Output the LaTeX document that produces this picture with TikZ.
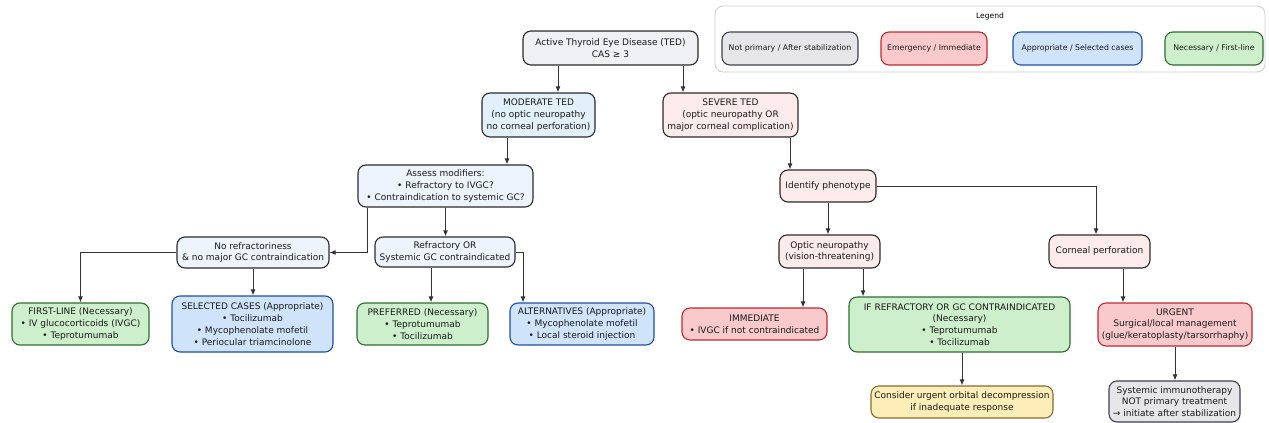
\documentclass[tikz,border=0pt]{standalone}
\usepackage{fontspec}
\setsansfont{DejaVu Sans}
\usepackage{tikz}
\usetikzlibrary{
    arrows.meta,      % For modern arrowheads like -{Latex}
    positioning       % For node placement
}

% Colour set
\definecolor{lineC}{HTML}{333333}
\definecolor{edgeC}{HTML}{2B2B2B}
\definecolor{startF}{HTML}{EEF0F3}
\definecolor{modF}{HTML}{E2F0FC}
\definecolor{evalF}{HTML}{EEF4FD}
\definecolor{sevF}{HTML}{FDEAEB}
\definecolor{npF}{HTML}{E6E6E8}   \definecolor{npD}{HTML}{3C4150}
\definecolor{emF}{HTML}{F9C9CB}   \definecolor{emD}{HTML}{C0282E}
\definecolor{apF}{HTML}{CFE3FB}   \definecolor{apD}{HTML}{1F4FA8}
\definecolor{neF}{HTML}{CDEFCB}   \definecolor{neD}{HTML}{2E6B31}
\definecolor{wnF}{HTML}{FDEDB8}   \definecolor{wnD}{HTML}{8B6A2B}

\tikzset{
  % Base style for every box
  base/.style={
    rectangle, draw=edgeC, line width=1.1pt, rounded corners=8pt,
    align=center, inner sep=2pt, text=black!90
  },
  % Light boxes for the decision steps
  startbox/.style={base, fill=startF},
  modbox/.style={base, fill=modF},
  evalbox/.style={base, fill=evalF},
  sevbox/.style={base, fill=sevF},
  % Coloured boxes for the recommendations
  npbox/.style={base, fill=npF, draw=npD},
  embox/.style={base, fill=emF, draw=emD},
  apbox/.style={base, fill=apF, draw=apD},
  nebox/.style={base, fill=neF, draw=neD},
  wnbox/.style={base, fill=wnF, draw=wnD},
  % Style for arrows
  arrow/.style={
    -{Latex[length=6pt,width=5pt]}, line width=1pt, draw=lineC
  }
}

\begin{document}
\begin{tikzpicture}[
        x=1pt, y=-1pt,
        font=\sffamily\fontsize{9}{11.8}\selectfont,
        legend/.style={
            rectangle, draw=black!20, line width=0.8pt, rounded corners=8pt, fill=white
        },
        key/.style={font=\sffamily\fontsize{7.8}{9}\selectfont, minimum height=33pt}
    ]
        \useasboundingbox (0,0) rectangle (1269,423);

        % Legend
        \node (legend) [legend, minimum width=550pt, minimum height=66pt] at (990,39) {};
        \node (legendtitle) [font=\sffamily\fontsize{7.6}{9}\selectfont] at (990,16) {Legend};
        \node (keynp) [npbox, key, minimum width=136pt] at (790,48.5) {Not primary / After stabilization};
        \node (keyem) [embox, key, minimum width=106pt] at (934,48.5) {Emergency / Immediate};
        \node (keyap) [apbox, key, minimum width=129pt] at (1077.5,48.5) {Appropriate / Selected cases};
        \node (keyne) [nebox, key, minimum width=98pt] at (1214,48.5) {Necessary / First-line};

        % Entry and severity
        \node (ted) [startbox, minimum width=175pt, minimum height=34pt] at (610.5,48) {Active Thyroid Eye Disease (TED)\\CAS ≥ 3};
        \node (moderate) [modbox, minimum width=113pt, minimum height=44pt] at (538.5,115) {MODERATE TED\\(no optic neuropathy\\no corneal perforation)};
        \node (severe) [sevbox, minimum width=135pt, minimum height=44pt] at (730.5,115) {SEVERE TED\\(optic neuropathy OR\\major corneal complication)};

        % Moderate branch
        \node (assess) [evalbox, minimum width=175pt, minimum height=42pt] at (445.5,186) {Assess modifiers:\\• Refractory to IVGC?\\• Contraindication to systemic GC?};
        \node (noref) [evalbox, minimum width=152pt, minimum height=31pt] at (253,252.5) {No refractoriness\\\& no major GC contraindication};
        \node (refr) [evalbox, minimum width=140pt, minimum height=30pt] at (445,252) {Refractory OR\\Systemic GC contraindicated};
        \node (firstline) [nebox, minimum width=137pt, minimum height=42pt] at (80.5,324) {FIRST-LINE (Necessary)\\• IV glucocorticoids (IVGC)\\• Teprotumumab};
        \node (selected) [apbox, minimum width=161pt, minimum height=56pt] at (252.5,324) {SELECTED CASES (Appropriate)\\• Tocilizumab\\• Mycophenolate mofetil\\• Periocular triamcinolone};
        \node (preferred) [nebox, minimum width=131pt, minimum height=42pt] at (422.5,324) {PREFERRED (Necessary)\\• Teprotumumab\\• Tocilizumab};
        \node (altern) [apbox, minimum width=144pt, minimum height=42pt] at (582,324) {ALTERNATIVES (Appropriate)\\• Mycophenolate mofetil\\• Local steroid injection};

        % Severe branch
        \node (phenotype) [sevbox, minimum width=96pt, minimum height=32pt] at (828,186) {Identify phenotype};
        \node (optic) [sevbox, minimum width=101pt, minimum height=33pt] at (829.5,251.5) {Optic neuropathy\\(vision-threatening)};
        \node (corneal) [sevbox, minimum width=101pt, minimum height=33pt] at (1099.5,251.5) {Corneal perforation};
        \node (immediate) [embox, minimum width=145pt, minimum height=32pt] at (754.5,324) {IMMEDIATE\\• IVGC if not contraindicated};
        \node (ifrefr) [nebox, minimum width=221pt, minimum height=55pt] at (959.5,324.5) {IF REFRACTORY OR GC CONTRAINDICATED\\(Necessary)\\• Teprotumumab\\• Tocilizumab};
        \node (decomp) [wnbox, minimum width=182pt, minimum height=32pt] at (962,402) {Consider urgent orbital decompression\\if inadequate response};
        \node (urgent) [embox, minimum width=154pt, minimum height=43pt] at (1175,324.5) {URGENT\\Surgical/local management\\(glue/keratoplasty/tarsorrhaphy)};
        \node (systemic) [npbox, minimum width=131pt, minimum height=41pt] at (1174.5,401.5) {Systemic immunotherapy\\NOT primary treatment\\→ initiate after stabilization};

        % Connectors
        \draw[arrow] ([xshift=19.5pt]moderate.north |- ted.south) -- ([xshift=19.5pt]moderate.north);
        \draw[arrow] ([xshift=-47.5pt]severe.north |- ted.south) -- ([xshift=-47.5pt]severe.north);
        \draw[arrow] ([xshift=61.5pt]assess.north |- moderate.south) -- ([xshift=61.5pt]assess.north);
        \draw[arrow] ([xshift=-38pt]phenotype.north |- severe.south) -- ([xshift=-38pt]phenotype.north);

        \draw[arrow] ([xshift=-78.5pt]assess.south) |- (noref.east);
        \draw[arrow] (assess.south) -- (assess.south |- refr.north);
        \draw[arrow] (noref.west) -| (firstline.north);
        \draw[arrow] (noref.south) -- (noref.south |- selected.north);
        \draw[arrow] ([xshift=8.5pt]preferred.north |- refr.south) -- ([xshift=8.5pt]preferred.north);
        \draw[arrow] (refr.east) -| ([xshift=-59pt]altern.north);

        \draw[arrow] (phenotype.south) -- (phenotype.south |- optic.north);
        \draw[arrow] (phenotype.east) -| ([xshift=-3.5pt]corneal.north);
        \draw[arrow] ([xshift=48.5pt]immediate.north |- optic.south) -- ([xshift=48.5pt]immediate.north);
        \draw[arrow] ([xshift=-96.5pt]ifrefr.north |- optic.south) -- ([xshift=-96.5pt]ifrefr.north);
        \draw[arrow] (decomp.north |- ifrefr.south) -- (decomp.north);
        \draw[arrow] ([xshift=-52pt]urgent.north |- corneal.south) -- ([xshift=-52pt]urgent.north);
        \draw[arrow] (urgent.south) -- (urgent.south |- systemic.north);

    \end{tikzpicture}
\end{document}
